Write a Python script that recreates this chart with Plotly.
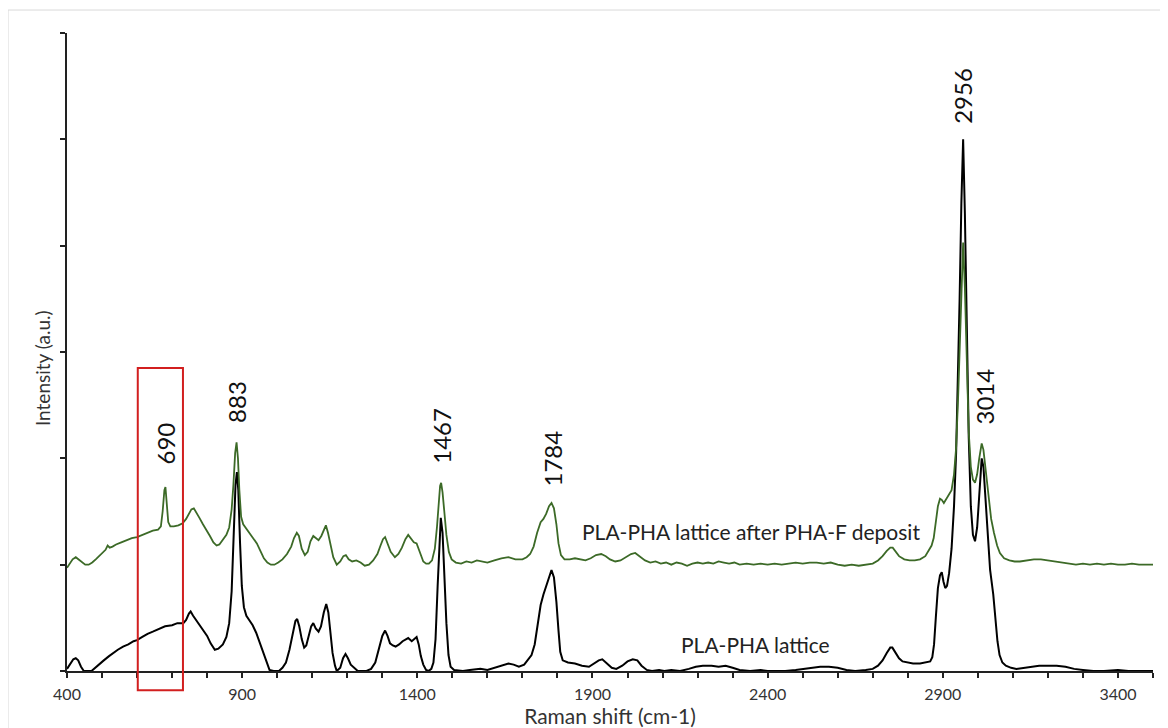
import plotly.graph_objects as go

# Raman shift (cm-1) and intensity (a.u.)
lattice_x = [400, 410, 418, 425, 432, 440, 448, 470, 480, 490, 505, 520, 531, 545, 560, 575, 590, 600, 615, 630,
             645, 665, 680, 700, 715, 732, 740, 748, 753, 760, 770, 780, 790, 800, 810, 822, 832, 845, 855, 863,
             870, 876, 881, 885, 889, 894, 899, 905, 912, 920, 930, 940, 950, 960, 970, 978, 990, 1005, 1015, 1025,
             1035, 1045, 1052, 1057, 1063, 1070, 1077, 1083, 1090, 1097, 1103, 1110, 1118, 1125, 1133, 1140, 1146,
             1152, 1158, 1165, 1170, 1180, 1188, 1195, 1202, 1210, 1222, 1230, 1255, 1268, 1280, 1292, 1300, 1308,
             1315, 1322, 1330, 1338, 1348, 1358, 1368, 1374, 1384, 1392, 1398, 1404, 1410, 1417, 1425, 1432, 1440,
             1446, 1452, 1458, 1463, 1467, 1472, 1477, 1483, 1489, 1495, 1505, 1530, 1550, 1580, 1600, 1620, 1640,
             1660, 1675, 1690, 1705, 1715, 1726, 1735, 1745, 1752, 1760, 1768, 1776, 1783, 1790, 1797, 1803, 1808,
             1815, 1830, 1850, 1870, 1890, 1905, 1918, 1928, 1940, 1955, 1968, 1985, 2000, 2015, 2028, 2040, 2055,
             2070, 2090, 2105, 2125, 2150, 2175, 2195, 2215, 2240, 2260, 2280, 2300, 2320, 2350, 2380, 2400, 2450,
             2480, 2500, 2525, 2550, 2575, 2600, 2625, 2650, 2680, 2700, 2715, 2728, 2740, 2750, 2756, 2765, 2775,
             2785, 2800, 2815, 2835, 2850, 2864, 2870, 2875, 2880, 2886, 2892, 2897, 2902, 2907, 2912, 2918, 2925,
             2932, 2938, 2943, 2948, 2953, 2958, 2963, 2968, 2974, 2980, 2986, 2992, 2998, 3004, 3011, 3016, 3022,
             3028, 3035, 3044, 3050, 3056, 3062, 3070, 3080, 3095, 3110, 3130, 3150, 3175, 3200, 3225, 3250, 3275,
             3300, 3330, 3360, 3400, 3430, 3470, 3500]
lattice_y = [0.02, 0.07, 0.11, 0.12, 0.10, 0.04, 0.0, 0.0, 0.03, 0.06, 0.10, 0.14, 0.17, 0.20, 0.23, 0.25, 0.28, 0.29, 0.32, 0.35,
             0.37, 0.40, 0.42, 0.43, 0.45, 0.45, 0.48, 0.54, 0.56, 0.52, 0.47, 0.43, 0.38, 0.33, 0.26, 0.20, 0.21, 0.25, 0.32, 0.45,
             0.75, 1.25, 1.75, 1.87, 1.70, 1.20, 0.80, 0.60, 0.52, 0.48, 0.43, 0.36, 0.27, 0.17, 0.08, 0.01, 0.0, 0.0, 0.03, 0.08,
             0.20, 0.38, 0.47, 0.49, 0.42, 0.30, 0.22, 0.24, 0.33, 0.42, 0.45, 0.40, 0.37, 0.42, 0.55, 0.63, 0.55,
             0.35, 0.17, 0.05, 0.0, 0.03, 0.12, 0.16, 0.12, 0.06, 0.02, 0.0, 0.0, 0.02, 0.08, 0.22, 0.33, 0.38,
             0.33, 0.26, 0.24, 0.23, 0.25, 0.28, 0.30, 0.31, 0.28, 0.30, 0.32, 0.25, 0.14, 0.06, 0.01, 0.0, 0.02,
             0.08, 0.30, 0.80, 1.25, 1.44, 1.30, 0.90, 0.45, 0.15, 0.04, 0.01, 0.0, 0.01, 0.02, 0.01, 0.03, 0.05,
             0.07, 0.06, 0.04, 0.06, 0.10, 0.15, 0.25, 0.45, 0.62, 0.72, 0.80, 0.90, 0.95, 0.88, 0.65, 0.38, 0.18,
             0.10, 0.08, 0.07, 0.05, 0.04, 0.07, 0.10, 0.11, 0.07, 0.03, 0.02, 0.05, 0.09, 0.11, 0.10, 0.05, 0.01,
             0.0, 0.01, 0.0, 0.01, 0.0, 0.02, 0.04, 0.05, 0.05, 0.04, 0.05, 0.03, 0.01, 0.0, 0.01, 0.0, 0.0,
             0.01, 0.02, 0.03, 0.04, 0.04, 0.03, 0.01, 0.0, 0.01, 0.02, 0.05, 0.10, 0.17, 0.22, 0.22, 0.17, 0.12,
             0.09, 0.08, 0.07, 0.07, 0.08, 0.09, 0.13, 0.25, 0.50, 0.78, 0.90, 0.93, 0.84, 0.78, 0.80, 0.92, 1.15,
             1.55, 2.05, 2.70, 3.50, 4.40, 5.00, 4.30, 3.30, 2.20, 1.55, 1.28, 1.22, 1.35, 1.65, 2.00, 1.92, 1.60,
             1.25, 0.95, 0.72, 0.50, 0.28, 0.15, 0.08, 0.05, 0.03, 0.02, 0.03, 0.04, 0.05, 0.05, 0.05, 0.04, 0.02,
             0.01, 0.0, 0.0, 0.01, 0.0, 0.0, 0.0]

deposit_x = [400, 408, 416, 425, 433, 442, 452, 462, 472, 482, 492, 502, 510, 516, 522, 530, 540, 555, 570, 585,
             600, 615, 630, 645, 660, 668, 673, 678, 681, 685, 689, 695, 705, 718, 730, 740, 748, 755, 762, 770,
             778, 788, 798, 808, 818, 827, 835, 845, 855, 863, 870, 875, 880, 884, 888, 892, 897, 903, 912, 922,
             932, 942, 952, 962, 972, 982, 992, 1003, 1015, 1028, 1040, 1048, 1056, 1062, 1070, 1079, 1087, 1095,
             1103, 1110, 1118, 1126, 1133, 1139, 1145, 1152, 1160, 1170, 1180, 1189, 1196, 1204, 1214, 1226, 1238,
             1250, 1262, 1274, 1286, 1295, 1302, 1308, 1315, 1324, 1336, 1346, 1356, 1366, 1374, 1382, 1390, 1398,
             1405, 1411, 1417, 1425, 1433, 1442, 1450, 1456, 1461, 1465, 1468, 1472, 1477, 1483, 1490, 1498, 1510,
             1525, 1540, 1555, 1570, 1585, 1600, 1620, 1640, 1660, 1680, 1700, 1712, 1722, 1732, 1742, 1752, 1760,
             1768, 1776, 1783, 1790, 1797, 1803, 1810, 1820, 1835, 1850, 1865, 1880, 1895, 1910, 1925, 1938, 1950,
             1965, 1980, 1995, 2010, 2022, 2035, 2050, 2065, 2080, 2095, 2110, 2125, 2140, 2155, 2170, 2185, 2200,
             2215, 2230, 2245, 2260, 2275, 2290, 2305, 2320, 2340, 2360, 2380, 2400, 2420, 2440, 2460, 2480, 2500,
             2520, 2540, 2560, 2580, 2600, 2620, 2640, 2660, 2680, 2700, 2715, 2728, 2740, 2750, 2757, 2765, 2775,
             2790, 2805, 2820, 2835, 2850, 2860, 2868, 2874, 2880, 2886, 2892, 2897, 2903, 2910, 2918, 2925, 2932,
             2938, 2944, 2949, 2954, 2958, 2963, 2968, 2974, 2980, 2986, 2992, 2998, 3004, 3011, 3016, 3022, 3030,
             3038, 3046, 3055, 3063, 3075, 3090, 3105, 3120, 3140, 3160, 3180, 3200, 3220, 3240, 3260, 3280, 3300,
             3320, 3340, 3360, 3380, 3400, 3420, 3440, 3460, 3480, 3500]
deposit_y = [0.97, 1.01, 1.05, 1.07, 1.05, 1.02, 1.00, 1.00, 1.02, 1.05, 1.08, 1.11, 1.14, 1.18, 1.16, 1.17, 1.19, 1.21, 1.23, 1.25,
             1.26, 1.28, 1.30, 1.32, 1.33, 1.36, 1.50, 1.70, 1.73, 1.55, 1.40, 1.36, 1.36, 1.37, 1.39, 1.43, 1.48, 1.52, 1.53, 1.49,
             1.44, 1.38, 1.33, 1.27, 1.21, 1.18, 1.19, 1.23, 1.28, 1.35, 1.52, 1.75, 2.05, 2.15, 2.00, 1.70, 1.45, 1.38, 1.34, 1.30,
             1.25, 1.20, 1.13, 1.06, 1.02, 1.00, 1.00, 1.02, 1.05, 1.10, 1.17, 1.25, 1.30, 1.27, 1.15, 1.09, 1.12, 1.22,
             1.27, 1.25, 1.23, 1.27, 1.33, 1.37, 1.30, 1.18, 1.07, 1.00, 1.03, 1.08, 1.09, 1.05, 1.03, 1.04, 1.02,
             0.99, 1.00, 1.04, 1.10, 1.18, 1.24, 1.26, 1.20, 1.12, 1.07, 1.10, 1.16, 1.24, 1.28, 1.24, 1.21, 1.20,
             1.14, 1.08, 1.03, 1.01, 1.01, 1.04, 1.15, 1.35, 1.60, 1.74, 1.77, 1.68, 1.50, 1.28, 1.12, 1.05, 1.02,
             1.01, 1.03, 1.02, 1.04, 1.03, 1.02, 1.04, 1.06, 1.07, 1.05, 1.05, 1.07, 1.10, 1.17, 1.30, 1.40, 1.43,
             1.48, 1.55, 1.58, 1.53, 1.38, 1.20, 1.09, 1.05, 1.05, 1.06, 1.05, 1.04, 1.06, 1.09, 1.10, 1.08, 1.05,
             1.03, 1.04, 1.07, 1.10, 1.11, 1.08, 1.04, 1.02, 1.03, 1.01, 1.02, 1.00, 1.02, 1.01, 0.99, 1.01, 1.02,
             1.01, 1.02, 1.01, 1.03, 1.02, 1.01, 1.02, 1.00, 1.01, 1.00, 1.01, 1.00, 1.01, 1.00, 1.01, 1.02, 1.01,
             1.02, 1.02, 1.01, 1.02, 1.00, 0.99, 1.00, 0.99, 1.00, 1.01, 1.04, 1.08, 1.13, 1.16, 1.16, 1.12, 1.08,
             1.05, 1.04, 1.04, 1.05, 1.08, 1.13, 1.18, 1.25, 1.38, 1.55, 1.62, 1.61, 1.58, 1.62, 1.66, 1.70, 1.85,
             2.10, 2.60, 3.20, 3.80, 4.03, 3.60, 2.90, 2.25, 1.92, 1.80, 1.77, 1.85, 2.00, 2.14, 2.08, 1.90, 1.62,
             1.43, 1.30, 1.18, 1.11, 1.06, 1.04, 1.03, 1.03, 1.04, 1.05, 1.05, 1.04, 1.03, 1.02, 1.01, 1.00, 1.01,
             1.00, 1.01, 1.00, 1.01, 1.00, 1.00, 1.01, 1.00, 1.00, 1.00]

peak_positions = [690, 883, 1467, 1784, 2956, 3014]
peak_label_y = [2.14, 2.53, 2.21, 2.00, 5.41, 2.58]
peak_label_x = [680, 885, 1467, 1785, 2958, 3020]

series_names = ["PLA-PHA lattice", "PLA-PHA lattice after PHA-F deposit"]
series_label_x = [2146, 1863]
series_label_y = [0.245, 1.31]

highlight_x = [602, 731]   # red box around the 690 band

FONT = "Lato, 'Open Sans', sans-serif"
GREEN = "#3c6a27"

fig = go.Figure()
fig.add_trace(go.Scatter(x=lattice_x, y=lattice_y, mode="lines", name=series_names[0],
                         line=dict(color="#000000", width=2), showlegend=False))
fig.add_trace(go.Scatter(x=deposit_x, y=deposit_y, mode="lines", name=series_names[1],
                         line=dict(color=GREEN, width=1.8), showlegend=False))

for label, xv, yv in zip(peak_positions, peak_label_x, peak_label_y):
    fig.add_annotation(x=xv, y=yv, xref="x", yref="y", text=str(label), showarrow=False,
                       textangle=-90, xanchor="center", yanchor="middle",
                       font=dict(family=FONT, size=24, color="#111111"))

for name, xv, yv in zip(series_names, series_label_x, series_label_y):
    fig.add_annotation(x=xv, y=yv, xref="x", yref="y", text=name, showarrow=False,
                       xanchor="left", yanchor="middle",
                       font=dict(family=FONT, size=21, color="#222222"))

# y-axis title
fig.add_annotation(x=-0.022, y=0.475, xref="paper", yref="paper", text="Intensity (a.u.)",
                   showarrow=False, textangle=-90, xanchor="center", yanchor="middle",
                   font=dict(family=FONT, size=19, color="#333333"))

# red highlight rectangle
fig.add_shape(type="rect", xref="x", yref="paper", x0=highlight_x[0], x1=highlight_x[1],
              y0=-0.03, y1=0.475, line=dict(color="#d21f1f", width=2), fillcolor="rgba(0,0,0,0)",
              layer="above")

# outer chart border (Excel-like chart area)
fig.add_shape(type="rect", xref="paper", yref="paper", x0=-0.0543, y0=-0.3, x1=1.2, y1=1.036,
              line=dict(color="#d9d9d9", width=1), fillcolor="rgba(0,0,0,0)", layer="below")

fig.update_layout(
    width=1160, height=720,
    margin=dict(l=59, r=15, t=25, b=57),
    paper_bgcolor="white", plot_bgcolor="white",
    font=dict(family=FONT, color="#333333"),
    xaxis=dict(range=[400, 3500], tick0=400, dtick=500, ticks="outside", ticklen=5, tickwidth=2,
               tickcolor="#222222", showline=True, linecolor="#222222", linewidth=2,
               showgrid=False, zeroline=False, ticklabelstandoff=3,
               tickfont=dict(family=FONT, size=16, color="#333333"),
               minor=dict(dtick=100, tick0=400, ticks="outside", ticklen=5, tickwidth=2, tickcolor="#222222"),
               title=dict(text="Raman shift (cm-1)", standoff=4,
                          font=dict(family=FONT, size=21, color="#333333")),
               automargin=False),
    yaxis=dict(range=[0, 6], dtick=1, ticks="outside", ticklen=5, tickwidth=2, tickcolor="#222222",
               showline=True, linecolor="#222222", linewidth=2, showticklabels=False,
               showgrid=False, zeroline=False, automargin=False),
)

fig.write_html("out.html")
